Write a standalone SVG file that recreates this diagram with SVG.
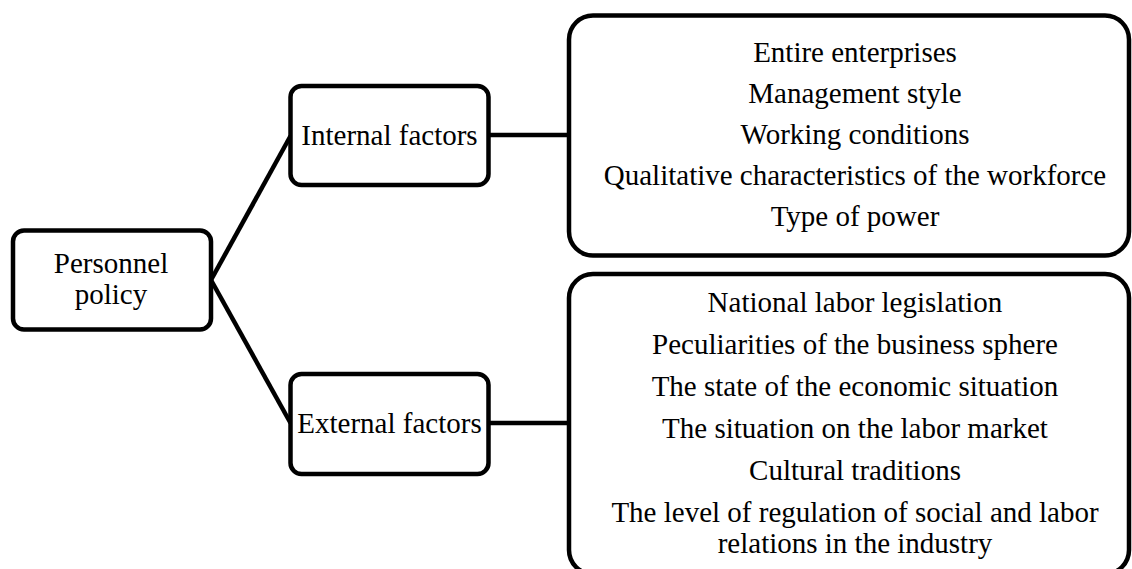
<svg xmlns="http://www.w3.org/2000/svg" width="1132" height="569" viewBox="0 0 1132 569">
<style>
.box{fill:#fff;stroke:#000;stroke-width:4.5}
.big{fill:#fff;stroke:#000;stroke-width:4.5}
.conn{stroke:#000;stroke-width:4.5;fill:none}
text{font-family:"Liberation Serif","Times New Roman",serif;font-size:29px;fill:#000;text-anchor:middle}
</style>
<rect width="1132" height="569" fill="#fff"/>
<g id="connectors">
<path class="conn" d="M211,280 L290.5,136"/>
<path class="conn" d="M211,280 L290.5,423"/>
<path class="conn" d="M488.5,135 L569,135"/>
<path class="conn" d="M488.5,423 L569,423"/>
</g>
<g id="personnel-policy">
<rect class="box" x="13" y="230.5" width="198" height="99" rx="11"/>
<text x="111" y="273">Personnel</text>
<text x="111" y="304">policy</text>
</g>
<g id="internal-factors">
<rect class="box" x="290.5" y="86" width="198" height="99" rx="11"/>
<text x="389.5" y="145">Internal factors</text>
</g>
<g id="external-factors">
<rect class="box" x="290.5" y="374" width="198" height="100" rx="11"/>
<text x="389.5" y="433">External factors</text>
</g>
<g id="internal-list">
<rect class="big" x="569" y="15.5" width="560" height="240" rx="24"/>
<text x="855" y="62">Entire enterprises</text>
<text x="855" y="103">Management style</text>
<text x="855" y="144">Working conditions</text>
<text x="855" y="185">Qualitative characteristics of the workforce</text>
<text x="855" y="226">Type of power</text>
</g>
<g id="external-list">
<rect class="big" x="569" y="274" width="560" height="300" rx="24"/>
<text x="855" y="312">National labor legislation</text>
<text x="855" y="354">Peculiarities of the business sphere</text>
<text x="855" y="396">The state of the economic situation</text>
<text x="855" y="438">The situation on the labor market</text>
<text x="855" y="480">Cultural traditions</text>
<text x="855" y="522">The level of regulation of social and labor</text>
<text x="855" y="553">relations in the industry</text>
</g>
</svg>
